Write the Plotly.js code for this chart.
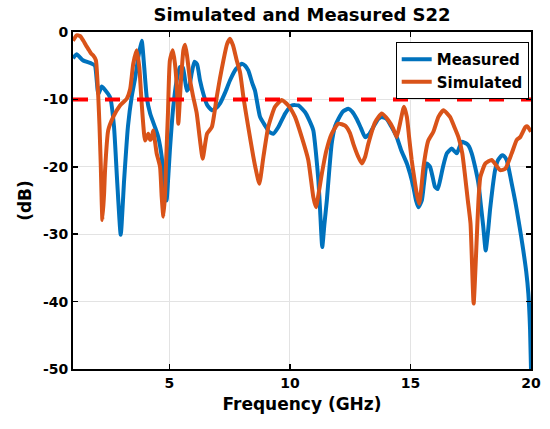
<!DOCTYPE html>
<html>
<head>
<meta charset="utf-8">
<script src="https://cdn.plot.ly/plotly-3.0.1.min.js"></script>
<style>html,body{margin:0;padding:0;background:#fff;}#chart{width:550px;height:429px;}</style>
</head>
<body>
<div id="chart"></div>
<script>
// Measured S22 (GHz, dB)
const measFreq = [1.0,1.15,1.41,1.78,1.91,2.05,2.19,2.33,2.54,2.70,2.83,2.98,3.12,3.28,3.44,3.57,3.72,3.85,3.95,4.06,4.20,4.40,4.53,4.68,4.77,4.88,4.96,5.02,5.16,5.30,5.44,5.56,5.72,5.81,5.93,6.04,6.15,6.27,6.41,6.56,6.76,6.93,7.10,7.31,7.51,7.76,8.0,8.14,8.27,8.43,8.55,8.76,8.97,9.13,9.31,9.52,9.80,10.07,10.35,10.63,10.79,10.97,11.08,11.18,11.25,11.34,11.43,11.53,11.62,11.73,11.87,12.01,12.20,12.42,12.58,12.77,12.95,13.12,13.28,13.46,13.66,13.81,14.01,14.20,14.43,14.61,14.85,14.98,15.12,15.23,15.33,15.47,15.56,15.68,15.81,15.92,16.02,16.13,16.23,16.35,16.51,16.71,16.92,17.13,17.34,17.43,17.54,17.68,17.82,17.93,18.02,18.12,18.22,18.30,18.41,18.51,18.63,18.79,18.88,18.99,19.09,19.20,19.34,19.48,19.59,19.68,19.80,19.89,19.96,20.0];
const measDB = [-3.9,-3.3,-4.2,-4.7,-5.0,-9.2,-8.1,-8.6,-9.7,-14,-22,-30.1,-22,-14,-9.5,-7,-3.5,-1.3,-5,-9.7,-12.1,-14.1,-15.5,-18.5,-22,-25,-21,-17.5,-11.1,-7.2,-5.2,-5.3,-8.7,-8.3,-6.0,-4.4,-4.8,-7.2,-9.2,-10.8,-11.6,-11.3,-10.6,-9.0,-7.2,-5.5,-4.7,-5.0,-5.7,-7.5,-8.7,-12.6,-13.9,-14.8,-15.1,-14.1,-12.1,-10.9,-10.9,-11.9,-13,-14.6,-18,-22,-26.4,-31.9,-28.5,-25,-21,-16.6,-14.0,-12.9,-11.8,-11.4,-11.8,-12.9,-14.3,-15.6,-15.2,-14.1,-12.9,-12.6,-12.9,-14.0,-15.6,-17.5,-19.5,-21,-23,-25,-26,-25,-22.5,-19.5,-20,-21.5,-23,-23.3,-22,-20,-18,-17.3,-18,-16.3,-16.6,-17,-18,-20,-22.5,-26,-28.9,-32.4,-29.5,-26.4,-23,-20.5,-19,-18.3,-18.4,-19,-20.5,-22.5,-25,-27.9,-30.3,-32.4,-35.5,-38.8,-44,-50];

// Simulated S22 (GHz, dB)
const simFreq = [1.0,1.15,1.29,1.43,1.54,1.63,1.75,1.84,1.95,2.01,2.05,2.10,2.15,2.22,2.29,2.33,2.46,2.67,2.95,3.23,3.37,3.50,3.64,3.75,3.82,3.89,3.99,4.12,4.20,4.27,4.33,4.47,4.61,4.68,4.75,4.82,4.86,4.94,5.02,5.14,5.23,5.32,5.37,5.47,5.58,5.65,5.73,5.85,5.98,6.13,6.27,6.38,6.56,6.76,6.96,7.10,7.24,7.39,7.51,7.64,7.79,7.93,8.07,8.27,8.48,8.59,8.73,8.90,9.10,9.38,9.66,9.93,10.21,10.49,10.76,10.97,11.08,11.21,11.30,11.51,11.73,12.01,12.29,12.49,12.63,12.83,12.98,13.12,13.25,13.53,13.81,14.08,14.28,14.43,14.57,14.73,14.85,14.94,15.05,15.15,15.26,15.36,15.44,15.54,15.74,15.95,16.16,16.37,16.64,16.81,16.99,17.15,17.27,17.38,17.49,17.62,17.74,17.82,17.90,18.11,18.37,18.72,18.93,19.20,19.41,19.55,19.77,19.85,20.0];
const simDB = [-1.3,-0.5,-0.6,-1.3,-2.0,-2.5,-3.2,-3.5,-4.2,-7,-9.7,-14,-19.5,-27.9,-24,-20.5,-14.6,-12.6,-10.9,-9.9,-8.5,-4.7,-2.7,-5.2,-9,-12.6,-16.1,-15.1,-16,-15.6,-14.6,-18,-20,-24.5,-27.4,-24,-19.5,-12,-4.2,-2.7,-4.7,-9,-13.6,-7.7,-2.7,-1.9,-3.5,-7,-9.5,-12,-16.1,-18.8,-15.1,-14.1,-9.7,-6.8,-4.2,-1.8,-1.0,-2.0,-4.2,-6,-9.7,-14.1,-18.5,-20.5,-22.5,-18.5,-14.1,-11.1,-10.1,-10.9,-12.6,-15.6,-19,-24.5,-26,-23.5,-21.5,-17.6,-15.1,-13.6,-13.9,-15,-16.6,-18.5,-19.5,-18.5,-16.6,-13.4,-12.1,-13.1,-14.3,-15.6,-13.5,-11.1,-12.6,-15.5,-19,-21.5,-24,-25.5,-23.5,-20,-16.1,-14.8,-12.6,-11.6,-12.6,-14,-15.6,-18,-21.5,-25,-28.4,-40.3,-31.4,-25,-21.5,-19.5,-19,-20.5,-20.3,-18,-16,-15.6,-14.1,-14.0,-14.8];

// -10 dB reference line
const refFreq = [1, 20];
const refDB = [-10, -10];

const xTicks = [5, 10, 15, 20];
const yTicks = [-50, -40, -30, -20, -10, 0];

const FONT = 'DejaVu Sans, Arial, sans-serif';

const traces = [
  {x: measFreq, y: measDB, name: 'Measured', mode: 'lines',
   line: {color: '#0072BD', width: 4, shape: 'spline', smoothing: 0.5}},
  {x: simFreq, y: simDB, name: 'Simulated', mode: 'lines',
   line: {color: '#D95319', width: 4, shape: 'spline', smoothing: 0.5}},
  {x: refFreq, y: refDB, name: '-10 dB', mode: 'lines', showlegend: false,
   line: {color: '#FF0000', width: 4, dash: '15px,17px'}}
];

const axisCommon = {
  showline: true, linecolor: '#000', linewidth: 2, mirror: 'allticks',
  ticks: 'inside', ticklen: 5, tickwidth: 1.5, tickcolor: '#000',
  showgrid: true, gridcolor: '#e3e3e3', gridwidth: 1, zeroline: false,
  tickfont: {family: FONT, size: 14, color: '#000', weight: 'bold'}
};

const layout = {
  width: 550, height: 429,
  margin: {l: 73, r: 19, t: 32, b: 60},
  paper_bgcolor: '#fff', plot_bgcolor: '#fff',
  title: {text: 'Simulated and Measured S22', x: 0.5, xref: 'paper', xanchor: 'center',
          y: 0.965, yref: 'container', yanchor: 'middle',
          font: {family: FONT, size: 18, color: '#000', weight: 'bold'}},
  xaxis: Object.assign({}, axisCommon, {
    range: [1, 20], tickvals: xTicks, ticktext: xTicks.map(String),
    title: {text: 'Frequency (GHz)', standoff: 8,
            font: {family: FONT, size: 17, color: '#000', weight: 'bold'}}
  }),
  yaxis: Object.assign({}, axisCommon, {
    range: [-50, 0], tickvals: yTicks, ticktext: yTicks.map(String),
    title: {text: '(dB)', standoff: 7,
            font: {family: FONT, size: 17, color: '#000', weight: 'bold'}}
  }),
  legend: {x: 0.995, xanchor: 'right', y: 0.97, yanchor: 'top',
           bgcolor: '#fff', bordercolor: '#000', borderwidth: 1,
           font: {family: FONT, size: 15, color: '#000', weight: 'bold'},
           entrywidth: 112, tracegroupgap: 0},
  showlegend: true
};

Plotly.newPlot('chart', traces, layout, {displayModeBar: false, staticPlot: true});
</script>
</body>
</html>
